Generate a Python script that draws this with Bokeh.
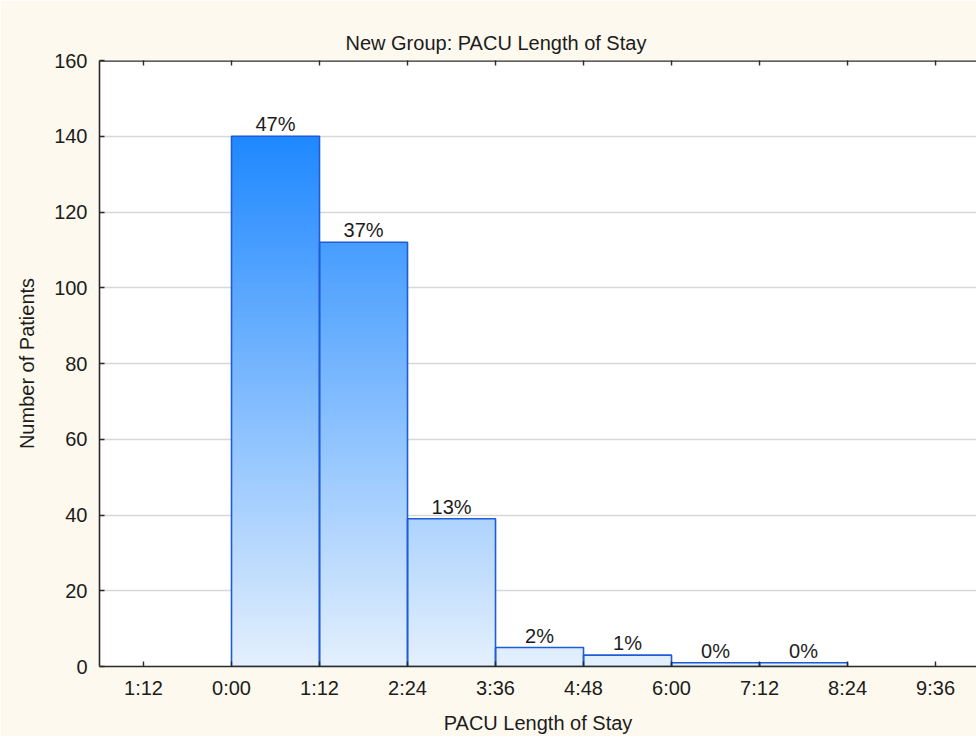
from bokeh.plotting import figure
from bokeh.models import FixedTicker, Range1d, Span
from bokeh.core.properties import value
from bokeh.embed import file_html
from bokeh.resources import INLINE

# ---------------- data ----------------
title_text = "New Group: PACU Length of Stay"
x_label = "PACU Length of Stay"
y_label = "Number of Patients"

# histogram bins, in minutes (72-minute = 1:12 bins)
bin_left_min = [0, 72, 144, 216, 288, 360, 432]
bin_width_min = 72
counts = [140, 112, 39, 5, 3, 1, 1]
pct_labels = ["47%", "37%", "13%", "2%", "1%", "0%", "0%"]

x_tick_values = [-72, 0, 72, 144, 216, 288, 360, 432, 504, 576]
x_tick_labels = ["1:12", "0:00", "1:12", "2:24", "3:36", "4:48", "6:00", "7:12", "8:24", "9:36"]
y_tick_values = [0, 20, 40, 60, 80, 100, 120, 140, 160]

# ---------------- style ----------------
FONT = "Liberation Sans"
TXT = "#1c1c1c"
CREAM = "#FEF9EE"
AXIS = "#2a2a2a"
C_TOP = (31, 136, 255)
C_BOT = (228, 240, 253)
OUTLINE = "#1E5BD6"

p = figure(width=976, height=736, output_backend="svg", toolbar_location=None,
           x_range=Range1d(-108, 609.5), y_range=Range1d(0, 160),
           min_border_left=99, min_border_right=0, min_border_top=60, min_border_bottom=69,
           title=title_text)
p.border_fill_color = CREAM
p.background_fill_color = "white"
p.outline_line_color = None

p.title.align = "left"
p.title.offset = 246
p.title.text_font = FONT
p.title.text_font_size = "20px"
p.title.text_font_style = "normal"
p.title.text_color = TXT
p.title.standoff = 13

# gradient bars, built from strips whose colour depends on height
ymax = max(counts)
L, R, B, T, C = [], [], [], [], []
step = 0.5
for left, cnt in zip(bin_left_min, counts):
    y = 0.0
    while y < cnt - 1e-9:
        y1 = min(y + step, cnt)
        f = ((y + y1) / 2) / ymax
        col = tuple(int(round(cb + (ct - cb) * f)) for cb, ct in zip(C_BOT, C_TOP))
        L.append(left)
        R.append(left + bin_width_min)
        B.append(y)
        T.append(min(y + 2 * step, cnt))
        C.append("#%02x%02x%02x" % col)
        y = y1
p.quad(left=L, right=R, bottom=B, top=T, fill_color=C, line_color=None)

rights = [l + bin_width_min for l in bin_left_min]
p.quad(left=bin_left_min, right=rights, bottom=0, top=counts,
       fill_color=None, line_color=OUTLINE, line_width=1.6)

centers = [l + bin_width_min / 2 for l in bin_left_min]
p.text(x=centers, y=counts, text=pct_labels, text_align="center", text_baseline="bottom",
       y_offset=-1, text_font=value(FONT), text_font_size="20px", text_color=TXT)

# grid
p.xgrid.visible = False
p.ygrid.ticker = FixedTicker(ticks=y_tick_values[1:-1])
p.ygrid.grid_line_color = "#D8D8D8"
p.ygrid.grid_line_width = 1.5

# axes
for ax in (p.xaxis[0], p.yaxis[0]):
    ax.axis_line_color = AXIS
    ax.axis_line_width = 1.6
    ax.major_tick_line_color = AXIS
    ax.major_tick_line_width = 1.4
    ax.major_tick_in = 5
    ax.major_tick_out = 0
    ax.minor_tick_in = 0
    ax.minor_tick_out = 0
    ax.major_label_text_font = FONT
    ax.major_label_text_font_size = "20px"
    ax.major_label_text_color = TXT
    ax.axis_label_text_font = FONT
    ax.axis_label_text_font_size = "20px"
    ax.axis_label_text_font_style = "normal"
    ax.axis_label_text_color = TXT

p.xaxis.ticker = FixedTicker(ticks=x_tick_values)
p.xaxis.major_label_overrides = {v: s for v, s in zip(x_tick_values, x_tick_labels)}
p.xaxis.axis_label = x_label
p.xaxis.major_label_standoff = 10
p.xaxis.axis_label_standoff = 10

p.yaxis.ticker = FixedTicker(ticks=y_tick_values)
p.yaxis.axis_label = y_label
p.yaxis.major_label_standoff = 12
p.yaxis.axis_label_standoff = 13

# top border line with inward ticks (no labels)
p.add_layout(Span(location=160, dimension="width", line_color=AXIS, line_width=2.4))
p.scatter(x=x_tick_values, y=[160] * len(x_tick_values), marker="dash", angle=1.5708,
          size=10, line_color=AXIS, line_width=1.4)

open("out.html", "w").write(file_html(p, INLINE))
